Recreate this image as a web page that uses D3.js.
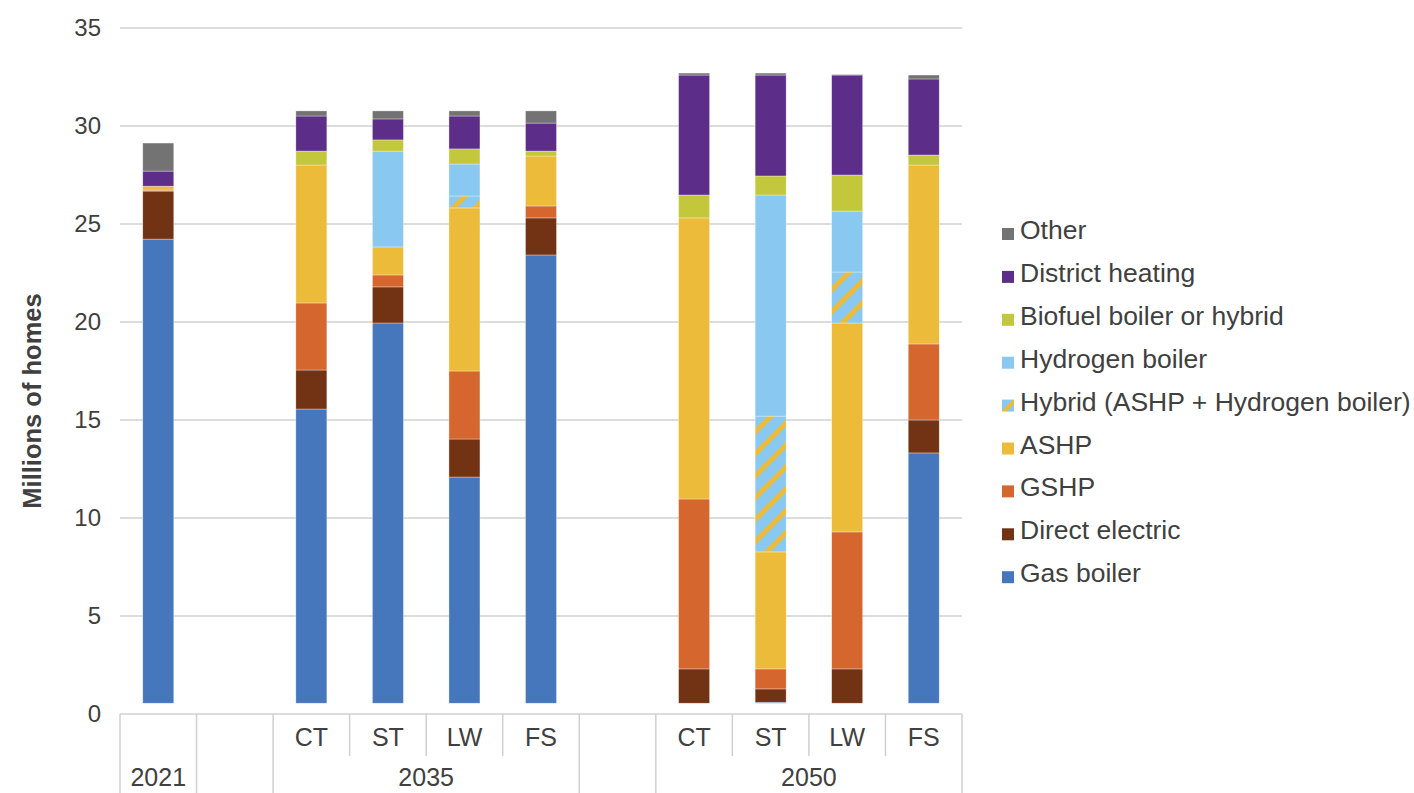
<!DOCTYPE html>
<html>
<head>
<meta charset="utf-8">
<script src="https://cdn.jsdelivr.net/npm/d3@7"></script>
<style>
  html, body { margin: 0; padding: 0; background: #ffffff; }
  svg { display: block; font-family: "Liberation Sans", Arial, sans-serif; }
</style>
</head>
<body>
<svg id="chart" width="1414" height="793"></svg>
<script>
// ---- data ----
const categories = ["2021", "gapA", "2035 CT", "2035 ST", "2035 LW", "2035 FS", "gapB", "2050 CT", "2050 ST", "2050 LW", "2050 FS"];
const subLabels  = ["", "", "CT", "ST", "LW", "FS", "", "CT", "ST", "LW", "FS"];
const groupLabels = [
  { label: "2021", from: "2021", to: "2021" },
  { label: "2035", from: "2035 CT", to: "2035 FS" },
  { label: "2050", from: "2050 CT", to: "2050 FS" }
];
const seriesNames = ["Gas boiler", "Direct electric", "GSHP", "ASHP", "Hybrid (ASHP + Hydrogen boiler)", "Hydrogen boiler", "Biofuel boiler or hybrid", "District heating", "Other"];

// values in millions of homes, one per category (null = empty slot)
const gasBoiler      = [23.68, null, 15.01, 19.40, 11.54, 22.87, null, 0.00, 0.05, 0.00, 12.77];
const directElectric = [2.45, null, 1.99, 1.84, 1.94, 1.89, null, 1.75, 0.68, 1.75, 1.68];
const gshp           = [0.05, null, 3.42, 0.61, 3.47, 0.61, null, 8.67, 1.02, 6.99, 3.88];
const ashp           = [0.20, null, 7.04, 1.43, 8.32, 2.55, null, 14.34, 5.97, 10.66, 9.13];
const hybrid         = [0.00, null, 0.00, 0.00, 0.61, 0.00, null, 0.00, 6.93, 2.60, 0.00];
const hydrogenBoiler = [0.00, null, 0.00, 4.89, 1.63, 0.00, null, 0.00, 11.28, 3.11, 0.00];
const biofuel        = [0.00, null, 0.71, 0.57, 0.77, 0.25, null, 1.17, 0.97, 1.84, 0.51];
const districtHeat   = [0.77, null, 1.79, 1.07, 1.68, 1.43, null, 6.12, 5.15, 5.10, 3.88];
const other          = [1.43, null, 0.26, 0.41, 0.26, 0.62, null, 0.10, 0.10, 0.03, 0.20];
const seriesValues = [gasBoiler, directElectric, gshp, ashp, hybrid, hydrogenBoiler, biofuel, districtHeat, other];

const stackBase = 0.55; // bars in the source start slightly above the zero line
const yTicks = [0, 5, 10, 15, 20, 25, 30, 35];
const legendOrder = ["Other", "District heating", "Biofuel boiler or hybrid", "Hydrogen boiler", "Hybrid (ASHP + Hydrogen boiler)", "ASHP", "GSHP", "Direct electric", "Gas boiler"];

// ---- styles ----
const colors = {
  "Gas boiler": "#4677bd",
  "Direct electric": "#723214",
  "GSHP": "#d5662d",
  "ASHP": "#edbb3a",
  "Hybrid (ASHP + Hydrogen boiler)": "url(#hybridHatch)",
  "Hydrogen boiler": "#88c8f1",
  "Biofuel boiler or hybrid": "#c3c73b",
  "District heating": "#5d2e89",
  "Other": "#737373"
};
const textColor = "#404040";
const gridColor = "#d0d0d0";

const svg = d3.select("#chart");
const margin = { left: 120, right: 962, top: 28, bottom: 714 };

// hatch pattern for hybrid
const defs = svg.append("defs");
const pat = defs.append("pattern")
  .attr("id", "hybridHatch")
  .attr("patternUnits", "userSpaceOnUse")
  .attr("width", 15.5).attr("height", 15.5)
  .attr("patternTransform", "rotate(45)");
pat.append("rect").attr("width", 15.5).attr("height", 15.5).attr("fill", "#88c8f1");
pat.append("rect").attr("width", 5).attr("height", 15.5).attr("fill", "#edbb3a");

const lp = defs.append("pattern")
  .attr("id", "legendHatch")
  .attr("patternUnits", "userSpaceOnUse")
  .attr("width", 12).attr("height", 12)
  .attr("patternTransform", "rotate(45)");
lp.append("rect").attr("width", 12).attr("height", 12).attr("fill", "#88c8f1");
lp.append("rect").attr("width", 4).attr("height", 12).attr("fill", "#edbb3a");

const x = d3.scaleBand().domain(categories).range([margin.left, margin.right])
  .paddingInner(0.595).paddingOuter(0.2975);
const y = d3.scaleLinear().domain([0, 35]).range([margin.bottom, margin.top]);

// gridlines
svg.append("g").selectAll("line").data(yTicks.filter(d => d > 0)).join("line")
  .attr("x1", margin.left).attr("x2", margin.right)
  .attr("y1", d => y(d)).attr("y2", d => y(d))
  .attr("stroke", gridColor).attr("stroke-width", 1.5);

// y axis labels
const yAxis = d3.axisLeft(y).tickValues(yTicks).tickSize(0).tickPadding(19);
const yg = svg.append("g").attr("transform", `translate(${margin.left},0)`).call(yAxis);
yg.select(".domain").remove();
yg.selectAll("text").attr("fill", textColor).style("font-size", "24px")
  .style("font-family", "Liberation Sans, Arial, sans-serif");

// axis title
svg.append("text")
  .attr("transform", `translate(41, 401) rotate(-90)`)
  .attr("text-anchor", "middle")
  .attr("fill", textColor)
  .style("font-size", "25.5px").style("font-weight", "bold")
  .text("Millions of homes");

// stacked data
const rows = categories.map((c, i) => {
  const r = { cat: c };
  seriesNames.forEach((s, k) => { r[s] = seriesValues[k][i] == null ? 0 : seriesValues[k][i]; });
  return r;
});
const stacked = d3.stack().keys(seriesNames)(rows);

const bars = svg.append("g");
stacked.forEach(layer => {
  bars.append("g")
    .attr("fill", colors[layer.key])
    .selectAll("rect")
    .data(layer.filter(d => d[1] - d[0] > 0))
    .join("rect")
    .attr("x", d => x(d.data.cat))
    .attr("width", x.bandwidth())
    .attr("y", d => y(d[1] + stackBase))
    .attr("height", d => y(d[0] + stackBase) - y(d[1] + stackBase))
    .attr("stroke", "#ffffff").attr("stroke-width", 0.6).attr("stroke-opacity", 0.55);
});

// category axis
const step = x.step();
const left = margin.left;
const axisG = svg.append("g");
axisG.append("line").attr("x1", left).attr("x2", margin.right)
  .attr("y1", y(0)).attr("y2", y(0)).attr("stroke", gridColor).attr("stroke-width", 1.5);

const boundaries = d3.range(categories.length + 1);
const fullBoundaries = new Set([0, 1, 2, 6, 7, 11]);
axisG.selectAll("line.sep").data(boundaries).join("line")
  .attr("class", "sep")
  .attr("x1", i => left + i * step).attr("x2", i => left + i * step)
  .attr("y1", y(0))
  .attr("y2", i => fullBoundaries.has(i) ? 800 : 756)
  .attr("stroke", gridColor).attr("stroke-width", 1.5);

axisG.selectAll("text.sub").data(categories.filter((c, i) => subLabels[i] !== "")).join("text")
  .attr("class", "sub")
  .attr("x", c => x(c) + x.bandwidth() / 2)
  .attr("y", 746)
  .attr("text-anchor", "middle")
  .attr("fill", textColor)
  .style("font-size", "25px")
  .text(c => subLabels[categories.indexOf(c)]);

axisG.selectAll("text.grp").data(groupLabels).join("text")
  .attr("class", "grp")
  .attr("x", g => (x(g.from) + x(g.to) + x.bandwidth()) / 2)
  .attr("y", 786)
  .attr("text-anchor", "middle")
  .attr("fill", textColor)
  .style("font-size", "25px")
  .text(g => g.label);

// legend
const legend = svg.append("g");
const legendRows = legend.selectAll("g").data(legendOrder).join("g")
  .attr("transform", (d, i) => `translate(1002, ${239 + i * 42.9})`);
legendRows.append("rect")
  .attr("x", 0).attr("y", -11).attr("width", 12).attr("height", 12)
  .attr("fill", d => d === "Hybrid (ASHP + Hydrogen boiler)" ? "url(#legendHatch)" : colors[d]);
legendRows.append("text")
  .attr("x", 18).attr("y", 0)
  .attr("fill", textColor)
  .style("font-size", "26.5px")
  .text(d => d);
</script>
</body>
</html>
